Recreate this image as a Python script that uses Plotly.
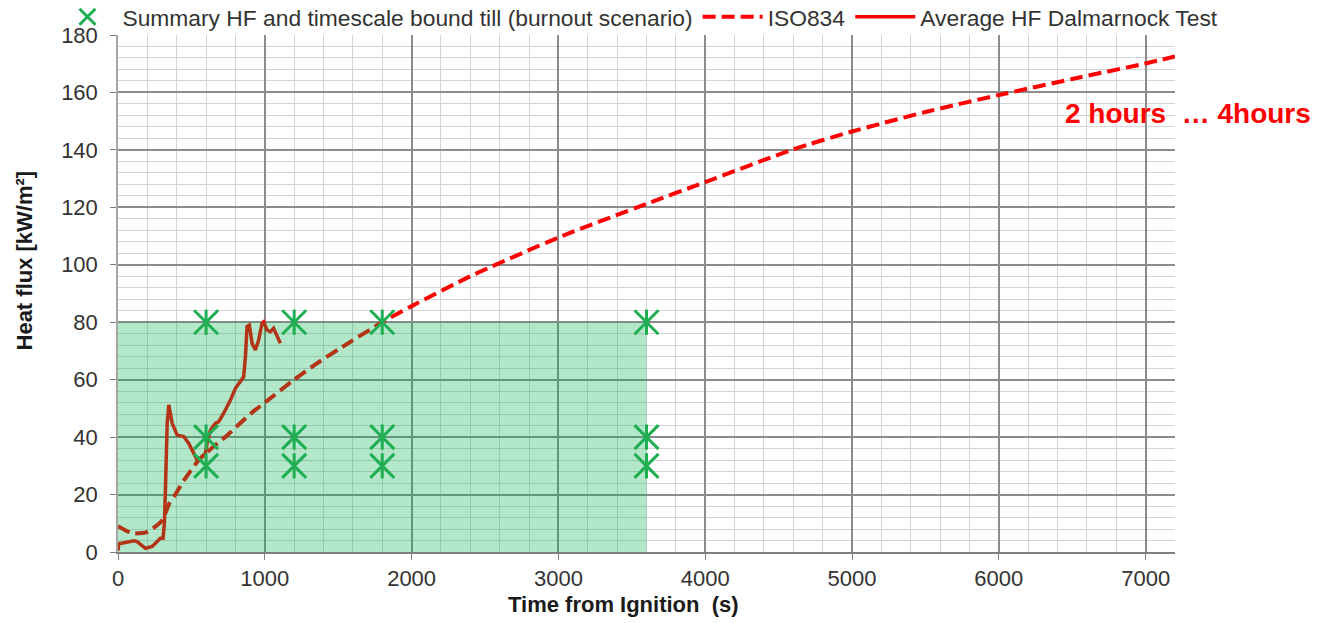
import plotly.graph_objects as go

# ISO834 heat-flux curve (time s, kW/m2)
iso_t = [0, 100, 200, 300, 350, 390, 450, 550, 680, 730, 900, 1050, 1200, 1350,
         1500, 1800, 2000, 2400, 3000, 3600, 4000, 4600, 5000, 5500, 6000,
         6500, 7000, 7200]
iso_hf = [9, 6.5, 7, 11, 17, 20, 25, 32, 38, 40, 48, 54, 60, 65.5,
          70.5, 80, 85.6, 96, 109.5, 121.2, 128.8, 140.2, 146.4, 153.2, 159.1,
          164.7, 170.1, 172.5]

# Average heat flux measured in the Dalmarnock test
dal_t = [0, 5, 17, 108, 130, 187, 233, 255, 289, 307, 316, 323, 335, 346, 357,
         369, 403, 448, 482, 516, 539, 561, 595, 607, 630, 663, 686, 720, 766,
         800, 834, 856, 868, 879, 895, 913, 936, 958, 981, 992, 1015, 1038,
         1060, 1083, 1106]
dal_hf = [0.5, 3, 3, 3.9, 3.6, 1.3, 1.9, 3, 4.8, 4.8, 10, 21.6, 44.8, 51.2, 47.1,
          44.8, 40.7, 40.2, 37.8, 34.4, 32, 32.6, 34.4, 37.8, 42.5, 44.8, 45.4,
          48.3, 52.9, 57, 59.3, 61, 68, 78.5, 79, 72.7, 70.3, 73.8, 79.6, 80.1,
          77.3, 76.7, 77.9, 75.6, 72.7]

# Summary heat fluxes and the timescale bound (burnout scenario)
sum_t = [600, 600, 600, 1200, 1200, 1200, 1800, 1800, 1800, 3600, 3600, 3600]
sum_hf = [80, 40, 30, 80, 40, 30, 80, 40, 30, 80, 40, 30]
bound_t = 3600
bound_hf = 80

x_ticks = [0, 1000, 2000, 3000, 4000, 5000, 6000, 7000]
y_ticks = [0, 20, 40, 60, 80, 100, 120, 140, 160, 180]

RED = "#ff0000"
GREEN = "#1fae52"
FONT = "Arial, Liberation Sans, sans-serif"

fig = go.Figure()

fig.add_trace(go.Scatter(
    x=iso_t, y=iso_hf, mode="lines", name="ISO834", legendrank=2,
    line=dict(color=RED, width=4, dash="13px,6px", shape="spline", smoothing=0.6),
    hoverinfo="skip"))

fig.add_trace(go.Scatter(
    x=dal_t, y=dal_hf, mode="lines", name="Average HF Dalmarnock Test",
    legendrank=3, line=dict(color=RED, width=3.5), hoverinfo="skip"))

# translucent green region covering the bounded time/flux window
fig.add_trace(go.Scatter(
    x=[0, bound_t, bound_t, 0, 0], y=[0, 0, bound_hf, bound_hf, 0],
    mode="lines", fill="toself", fillcolor="rgba(0,176,80,0.3)",
    line=dict(width=0), showlegend=False, hoverinfo="skip"))

fig.add_trace(go.Scatter(
    x=sum_t, y=sum_hf, mode="markers",
    name="Summary HF and timescale bound till (burnout scenario)",
    legendrank=1, legendgroup="sum",
    marker=dict(symbol="x-thin-open", size=24,
                line=dict(color=GREEN, width=3), color=GREEN),
    hoverinfo="skip"))
fig.add_trace(go.Scatter(
    x=sum_t, y=sum_hf, mode="markers", showlegend=False, legendgroup="sum",
    marker=dict(symbol="line-ns-open", size=18,
                line=dict(color=GREEN, width=3), color=GREEN),
    hoverinfo="skip"))

fig.update_layout(
    width=1334, height=623,
    margin=dict(l=117.5, r=158.5, t=35, b=71, autoexpand=False),
    paper_bgcolor="white", plot_bgcolor="white",
    font=dict(family=FONT, size=22, color="#333333"),
    showlegend=True,
    legend=dict(orientation="h", x=-0.062, xanchor="left", y=1.035,
                yanchor="middle", itemwidth=60, font=dict(size=22.8, color="#333333"),
                bgcolor="rgba(0,0,0,0)", tracegroupgap=0),
    xaxis=dict(range=[0, 7200], tickvals=x_ticks,
               ticktext=[str(v) for v in x_ticks],
               showgrid=True, gridcolor="#8c8c8c", gridwidth=1.5,
               minor=dict(dtick=200, tick0=0, showgrid=True,
                          gridcolor="#d4d4d4", gridwidth=1),
               showline=True, linecolor="#7f7f7f", linewidth=1.5,
               ticks="outside", ticklen=6, tickcolor="#7f7f7f",
               zeroline=False, tickfont=dict(size=22)),
    yaxis=dict(range=[0, 180], tickvals=y_ticks,
               ticktext=[str(v) for v in y_ticks],
               showgrid=True, gridcolor="#8c8c8c", gridwidth=1.5,
               minor=dict(dtick=4, tick0=0, showgrid=True,
                          gridcolor="#d4d4d4", gridwidth=1),
               showline=True, linecolor="#a6a6a6", linewidth=1.5,
               ticks="outside", ticklen=6, tickcolor="#7f7f7f",
               ticklabelstandoff=8,
               zeroline=False, tickfont=dict(size=22)),
    annotations=[
        dict(text="<b>Time from Ignition\u00a0 (s)</b>", xref="paper", yref="paper",
             x=0.478, y=-0.1006, xanchor="center", yanchor="middle",
             showarrow=False, font=dict(size=22, color="#1a1a1a")),
        dict(text="<b>Heat flux [kW/m²]</b>", xref="paper", yref="paper",
             x=-0.0884, y=0.563, xanchor="center", yanchor="middle",
             textangle=-90, showarrow=False,
             font=dict(size=22, color="#1a1a1a")),
        dict(text="<b>2 hours\u00a0 … 4hours</b>", xref="paper", yref="paper",
             x=0.8937, y=0.849, xanchor="left", yanchor="middle",
             showarrow=False, font=dict(size=28, color=RED)),
    ],
)

fig.write_html("out.html")
